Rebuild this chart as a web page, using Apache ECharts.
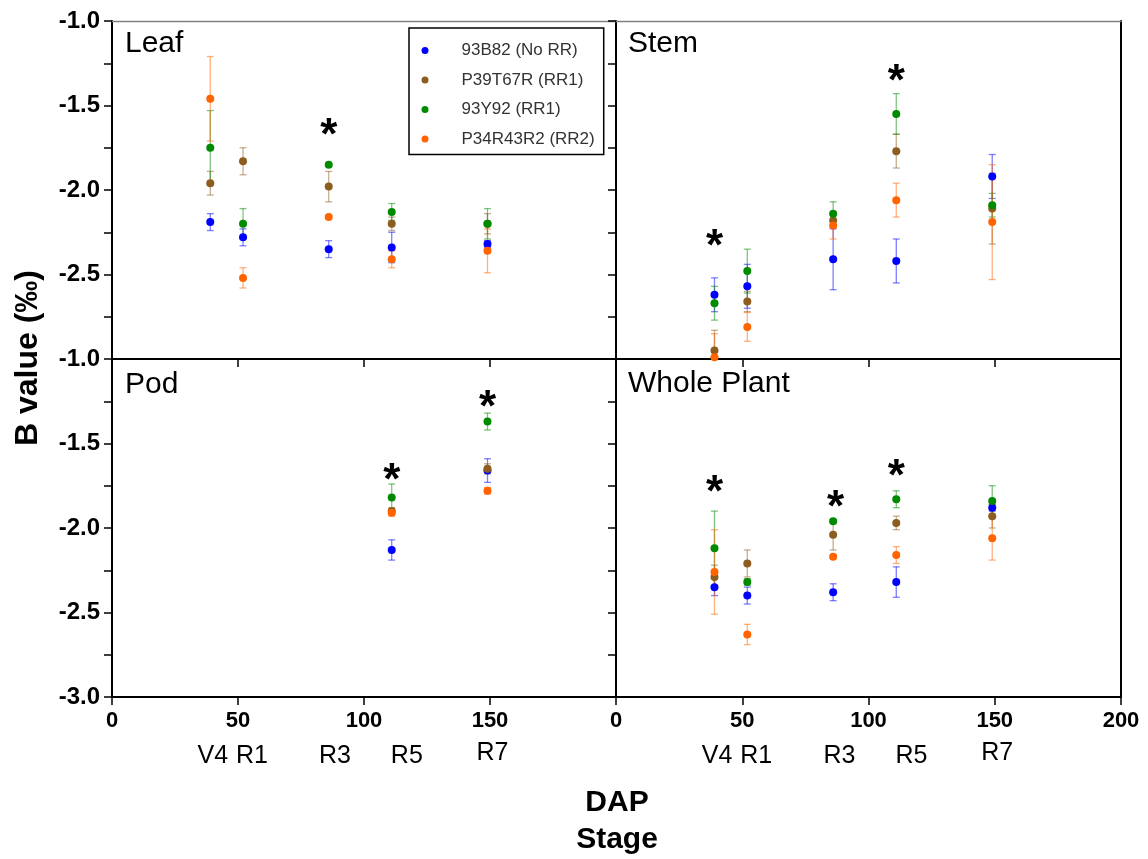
<!DOCTYPE html>
<html>
<head>
<meta charset="utf-8">
<script src="https://cdn.jsdelivr.net/npm/echarts@6/dist/echarts.min.js"></script>
<style>html,body{margin:0;padding:0;background:#fff}#c{width:1148px;height:859px}</style>
</head>
<body>
<div id="c"></div>
<script>
// ---------------- data ----------------
const cultivars = ['93B82 (No RR)', 'P39T67R (RR1)', '93Y92 (RR1)', 'P34R43R2 (RR2)'];
const dap = [39, 52, 86, 111, 149];
const podDap = [111, 149];

// Leaf
const leaf_93B82 = [-2.19, -2.28, -2.35, -2.34, -2.32];
const leaf_93B82_err = [0.05, 0.05, 0.05, 0.09, 0.02];
const leaf_P39T67R = [-1.96, -1.83, -1.98, -2.20, -2.20];
const leaf_P39T67R_err = [0.07, 0.08, 0.09, 0.04, 0.06];
const leaf_93Y92 = [-1.75, -2.20, -1.85, -2.13, -2.20];
const leaf_93Y92_err = [0.22, 0.09, 0.00, 0.05, 0.09];
const leaf_P34R43R2 = [-1.46, -2.52, -2.16, -2.41, -2.36];
const leaf_P34R43R2_err = [0.25, 0.06, 0.01, 0.05, 0.13];

// Stem
const stem_93B82 = [-2.62, -2.57, -2.41, -2.42, -1.92];
const stem_93B82_err = [0.10, 0.13, 0.18, 0.13, 0.13];
const stem_P39T67R = [-2.95, -2.66, -2.18, -1.77, -2.11];
const stem_P39T67R_err = [0.12, 0.06, 0.04, 0.10, 0.21];
const stem_93Y92 = [-2.67, -2.48, -2.14, -1.55, -2.09];
const stem_93Y92_err = [0.10, 0.13, 0.07, 0.12, 0.07];
const stem_P34R43R2 = [-2.99, -2.81, -2.21, -2.06, -2.19];
const stem_P34R43R2_err = [0.14, 0.085, 0.08, 0.10, 0.34];

// Pod
const pod_93B82 = [-2.13, -1.66];
const pod_93B82_err = [0.06, 0.07];
const pod_P39T67R = [-1.90, -1.65];
const pod_P39T67R_err = [0.02, 0.03];
const pod_93Y92 = [-1.82, -1.37];
const pod_93Y92_err = [0.08, 0.05];
const pod_P34R43R2 = [-1.91, -1.78];
const pod_P34R43R2_err = [0.02, 0.02];

// Whole plant
const whole_93B82 = [-2.35, -2.40, -2.38, -2.32, -1.88];
const whole_93B82_err = [0.05, 0.05, 0.05, 0.09, 0.02];
const whole_P39T67R = [-2.29, -2.21, -2.04, -1.97, -1.93];
const whole_P39T67R_err = [0.07, 0.08, 0.09, 0.04, 0.07];
const whole_93Y92 = [-2.12, -2.32, -1.96, -1.83, -1.84];
const whole_93Y92_err = [0.22, 0.02, 0.01, 0.05, 0.09];
const whole_P34R43R2 = [-2.26, -2.63, -2.17, -2.16, -2.06];
const whole_P34R43R2_err = [0.25, 0.06, 0.01, 0.05, 0.13];

// significance markers [DAP, B value]
const leafStars = [[86, -1.62]];
const stemStars = [[39, -2.28], [111, -1.30]];
const podStars = [[111, -1.66], [149, -1.23]];
const wholeStars = [[39, -1.73], [87, -1.82], [111, -1.64]];

// growth stage labels under the DAP axis
const stages = ['V4', 'R1', 'R3', 'R5', 'R7'];
const stageDap = [40, 55.5, 88.5, 117, 151];

const panelNames = ['Leaf', 'Stem', 'Pod', 'Whole Plant'];
const xTicks = [0, 50, 100, 150, 200];
const yTicks = [-1.0, -1.5, -2.0, -2.5, -3.0];

// ---------------- build ----------------
const colors = ['#0000ff', '#8d5d20', '#008a00', '#ff6400'];
const errColors = ['rgba(0,0,255,0.5)', 'rgba(141,93,32,0.5)', 'rgba(0,138,0,0.5)', 'rgba(255,100,0,0.5)'];
const FONT = 'Liberation Sans, Arial, sans-serif';

const panels = [
  {x: dap, vals: [leaf_93B82, leaf_P39T67R, leaf_93Y92, leaf_P34R43R2], errs: [leaf_93B82_err, leaf_P39T67R_err, leaf_93Y92_err, leaf_P34R43R2_err], stars: leafStars},
  {x: dap, vals: [stem_93B82, stem_P39T67R, stem_93Y92, stem_P34R43R2], errs: [stem_93B82_err, stem_P39T67R_err, stem_93Y92_err, stem_P34R43R2_err], stars: stemStars},
  {x: podDap, vals: [pod_93B82, pod_P39T67R, pod_93Y92, pod_P34R43R2], errs: [pod_93B82_err, pod_P39T67R_err, pod_93Y92_err, pod_P34R43R2_err], stars: podStars},
  {x: dap, vals: [whole_93B82, whole_P39T67R, whole_93Y92, whole_P34R43R2], errs: [whole_93B82_err, whole_P39T67R_err, whole_93Y92_err, whole_P34R43R2_err], stars: wholeStars}
];

const gridBoxes = [
  {left: 112, top: 21, width: 504, height: 338},
  {left: 616, top: 21, width: 505, height: 338},
  {left: 112, top: 359, width: 504, height: 338},
  {left: 616, top: 359, width: 505, height: 338}
];

const xAxis = [], yAxis = [], series = [];
gridBoxes.forEach((g, i) => {
  const isBottom = i >= 2, isLeft = i % 2 === 0;
  xAxis.push({
    type: 'value', gridIndex: i, min: xTicks[0], max: xTicks[xTicks.length - 1], interval: 50,
    position: 'bottom',
    axisLine: {show: true, onZero: false, lineStyle: {color: '#000', width: 2}},
    axisTick: {show: true, inside: false, length: 8, lineStyle: {color: '#000', width: 1.5}},
    axisLabel: {show: isBottom, showMaxLabel: !isLeft, margin: 13, color: '#000', fontSize: 22, fontWeight: 'bold', fontFamily: FONT},
    splitLine: {show: false}
  });
  yAxis.push({
    type: 'value', gridIndex: i, min: yTicks[yTicks.length - 1], max: yTicks[0], interval: 0.25,
    position: 'left',
    axisLine: {show: true, onZero: false, lineStyle: {color: '#000', width: 2}},
    axisTick: {show: true, inside: false, length: 8, lineStyle: {color: '#000', width: 1.5}},
    axisLabel: {
      show: isLeft, margin: 12, color: '#000', fontSize: 24, fontWeight: 'bold', fontFamily: FONT,
      formatter: v => {
        if (Math.abs(v * 2 - Math.round(v * 2)) > 1e-6) return '';
        if (!isBottom && Math.abs(v - yTicks[yTicks.length - 1]) < 1e-6) return '';
        return v.toFixed(1);
      }
    },
    splitLine: {show: false}
  });
});
// frame: gray top border for upper panels, black right border for right panels
[0, 1].forEach(i => xAxis.push({
  type: 'value', gridIndex: i, min: 0, max: 200, position: 'top',
  axisLine: {show: true, onZero: false, lineStyle: {color: '#808080', width: 1.3}},
  axisTick: {show: false}, axisLabel: {show: false}, splitLine: {show: false}
}));
[1, 3].forEach(i => yAxis.push({
  type: 'value', gridIndex: i, min: -3, max: -1, position: 'right',
  axisLine: {show: true, onZero: false, lineStyle: {color: '#000', width: 2}},
  axisTick: {show: false}, axisLabel: {show: false}, splitLine: {show: false}
}));

panels.forEach((p, i) => {
  // points
  cultivars.forEach((name, k) => {
    series.push({
      name: name, type: 'scatter', xAxisIndex: i, yAxisIndex: i, clip: false,
      symbol: 'circle', symbolSize: 8, z: 4,
      itemStyle: {color: colors[k], opacity: 1},
      data: p.x.map((d, j) => [d, p.vals[k][j]])
    });
  });
  // error bars
  cultivars.forEach((name, k) => {
    series.push({
      name: 'err ' + name, type: 'custom', xAxisIndex: i, yAxisIndex: i, clip: true, z: 3,
      encode: {x: 0, y: [1, 2]},
      data: p.x.map((d, j) => [d, p.vals[k][j] - p.errs[k][j], p.vals[k][j] + p.errs[k][j]]),
      renderItem: (params, api) => {
        const a = api.coord([api.value(0), api.value(1)]);
        const b = api.coord([api.value(0), api.value(2)]);
        const w = 3.5;
        const st = {stroke: errColors[k], lineWidth: 1.3, fill: null};
        return {type: 'group', children: [
          {type: 'line', shape: {x1: a[0], y1: a[1], x2: b[0], y2: b[1]}, style: st},
          {type: 'line', shape: {x1: a[0] - w, y1: a[1], x2: a[0] + w, y2: a[1]}, style: st},
          {type: 'line', shape: {x1: b[0] - w, y1: b[1], x2: b[0] + w, y2: b[1]}, style: st}
        ]};
      }
    });
  });
  // significance stars
  series.push({
    name: 'stars' + i, type: 'scatter', xAxisIndex: i, yAxisIndex: i, clip: false, silent: true,
    symbol: 'circle', symbolSize: 0.1, itemStyle: {color: 'rgba(0,0,0,0)', opacity: 1}, z: 5,
    label: {show: true, position: 'inside', formatter: '*', fontSize: 44, fontWeight: 'bold', color: '#000', opacity: 1, fontFamily: FONT, offset: [0, 11]},
    data: p.stars
  });
});
// stage labels below the bottom DAP axes
[2, 3].forEach(i => {
  series.push({
    name: 'stage' + i, type: 'scatter', xAxisIndex: i, yAxisIndex: i, clip: false, silent: true,
    symbol: 'circle', symbolSize: 0.1, itemStyle: {color: 'rgba(0,0,0,0)', opacity: 1},
    label: {show: true, position: 'inside', formatter: q => q.value[2], fontSize: 25, color: '#000', opacity: 1, fontFamily: FONT, offset: [0, 59]},
    data: stages.map((s, j) => ({value: [stageDap[j], -3, s], label: s === 'R7' ? {offset: [0, 56]} : undefined}))
  });
});

const panelLabelPos = [[125, 44], [628, 44], [125, 385], [628, 384]];
const graphic = panelNames.map((t, i) => ({
  type: 'text', x: panelLabelPos[i][0], y: panelLabelPos[i][1], z: 10,
  style: {text: t, font: '30px ' + FONT, fill: '#000', textAlign: 'left', textVerticalAlign: 'middle'}
}));
graphic.push({type: 'text', x: 28, y: 358, rotation: Math.PI / 2, z: 10,
  style: {text: 'B value (‰)', font: 'bold 32px ' + FONT, fill: '#000', textAlign: 'center', textVerticalAlign: 'middle'}});
graphic.push({type: 'text', x: 617, y: 803, z: 10,
  style: {text: 'DAP', font: 'bold 30px ' + FONT, fill: '#000', textAlign: 'center', textVerticalAlign: 'middle'}});
graphic.push({type: 'text', x: 617, y: 840, z: 10,
  style: {text: 'Stage', font: 'bold 30px ' + FONT, fill: '#000', textAlign: 'center', textVerticalAlign: 'middle'}});

const chart = echarts.init(document.getElementById('c'), null, {renderer: 'canvas'});
chart.setOption({
  animation: false,
  backgroundColor: '#fff',
  grid: gridBoxes.map(g => Object.assign({containLabel: false}, g)),
  xAxis: xAxis,
  yAxis: yAxis,
  legend: {
    data: cultivars.map(n => ({name: n, icon: 'circle'})),
    orient: 'vertical', left: 409, top: 28,
    itemWidth: 7, itemHeight: 7, itemGap: 12.5,
    padding: [14, 9, 7, 12.5],
    borderColor: '#000', borderWidth: 1.5, backgroundColor: '#fff',
    selectedMode: false, z: 8,
    textStyle: {fontSize: 17, color: '#333', fontFamily: FONT, lineHeight: 16, padding: [0, 0, 0, 28]}
  },
  graphic: graphic,
  series: series
});
</script>
</body>
</html>
